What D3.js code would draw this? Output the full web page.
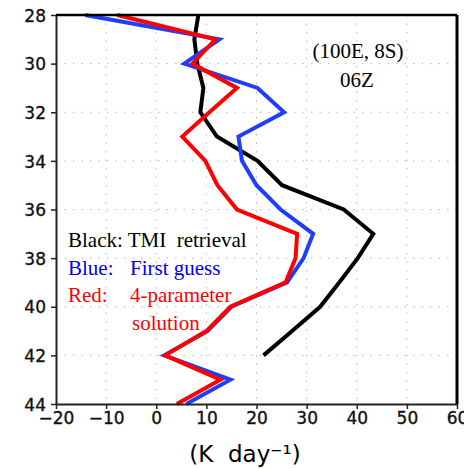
<!DOCTYPE html>
<html>
<head>
<meta charset="utf-8">
<script src="https://cdn.jsdelivr.net/npm/d3@7"></script>
<style>
  html, body { margin: 0; padding: 0; background: #fff; }
  svg { display: block; }
  .tick text { font-family: "DejaVu Sans", sans-serif; font-size: 17px; fill: #111; stroke: #111; stroke-width: 0.35px; }
  .grid line { stroke: #b8b8b8; stroke-width: 1; stroke-dasharray: 1.5,7; }
  .note { font-family: "Liberation Serif", "Times New Roman", serif; font-size: 21px; white-space: pre; }
</style>
</head>
<body>
<svg id="svg" width="464" height="469"></svg>
<script>
// --- Data ------------------------------------------------------------------
// vertical levels (y axis, increasing downward) and heating rates in K/day
const levels = [28, 29, 30, 31, 32, 33, 34, 35, 36, 37, 38, 39, 40, 41, 42, 43, 44];
const tmiRetrieval = [8.4, 7.6, 8.2, 9.4, 8.8, 12.1, 20.2, 25.1, 37.4, 43.3, 40.2, 36.5, 32.7, 27.1, 21.4, null, null];
const firstGuess = [-14.2, 12.6, 5.6, 20.2, 25.5, 16.4, 17.1, 20, 24.8, 31.3, 29.4, 26.1, 15, 10.2, 1.6, 14.8, 6];
const fourParam = [-7.8, 11.8, 7.2, 16.1, 10.6, 5.2, 9.8, 12.2, 16.1, 28.1, 27.8, 25.8, 14.8, 10, 1.8, 12.8, 4.1];
const xTicks = [-20, -10, 0, 10, 20, 30, 40, 50, 60];
const yTicks = [28, 30, 32, 34, 36, 38, 40, 42, 44];

const series = [
  { name: "TMI retrieval", color: "#000000", values: tmiRetrieval },
  { name: "First guess", color: "#1f3dff", values: firstGuess },
  { name: "4-parameter solution", color: "#ff0000", values: fourParam }
];

// --- Layout ----------------------------------------------------------------
const svg = d3.select("#svg");
const W = 464, H = 469;
const m = { left: 56, right: 7, top: 15, bottom: 65 };

const x = d3.scaleLinear().domain([-20, 60]).range([m.left, W - m.right]);
const y = d3.scaleLinear().domain([28, 44]).range([m.top, H - m.bottom]);

// grid
const grid = svg.append("g").attr("class", "grid");
grid.selectAll("line.v").data(xTicks.slice(1, -1)).enter().append("line")
  .attr("x1", d => x(d)).attr("x2", d => x(d))
  .attr("y1", y(28)).attr("y2", y(44));
grid.selectAll("line.h").data(yTicks.slice(1, -1)).enter().append("line")
  .attr("x1", x(-20)).attr("x2", x(60))
  .attr("y1", d => y(d)).attr("y2", d => y(d));

// lines
const line = d3.line()
  .defined(d => d.v != null)
  .x(d => x(d.v)).y(d => y(d.lev));

svg.append("g").selectAll("path")
  .data(series).enter()
  .append("path")
  .attr("d", s => line(levels.map((lev, i) => ({ lev, v: s.values[i] }))))
  .attr("fill", "none")
  .attr("stroke", s => s.color)
  .attr("stroke-width", 4)
  .attr("stroke-linejoin", "miter")
  .attr("stroke-linecap", "butt");

// frame: top/right heavy black, left/bottom axes
svg.append("line").attr("x1", x(-20)).attr("x2", x(60)).attr("y1", y(28)).attr("y2", y(28))
  .attr("stroke", "#000").attr("stroke-width", 2.5);
svg.append("line").attr("x1", x(60)).attr("x2", x(60)).attr("y1", y(28)).attr("y2", y(44))
  .attr("stroke", "#000").attr("stroke-width", 3);

const xAxis = svg.append("g")
  .attr("transform", `translate(0,${y(44)})`)
  .call(d3.axisBottom(x).tickValues(xTicks).tickSize(5).tickPadding(3).tickSizeOuter(0));
const yAxis = svg.append("g")
  .attr("transform", `translate(${x(-20)},0)`)
  .call(d3.axisLeft(y).tickValues(yTicks).tickSize(5).tickPadding(5).tickSizeOuter(0));
[xAxis, yAxis].forEach(a => {
  a.select(".domain").attr("stroke", "#222").attr("stroke-width", 2);
  a.selectAll(".tick line").attr("stroke", "#222").attr("stroke-width", 1.5);
});
yAxis.selectAll(".tick text").attr("dy", "0.36em");

// axis title
svg.append("text")
  .attr("x", 245).attr("y", 462)
  .attr("text-anchor", "middle")
  .attr("font-family", "DejaVu Sans, sans-serif")
  .attr("font-size", 23)
  .attr("fill", "#000")
  .style("white-space", "pre")
  .text("(K  day\u207B\u00B9)");

// annotations
svg.append("text").attr("class", "note").attr("x", 358).attr("y", 58)
  .attr("text-anchor", "middle").text("(100E, 8S)");
svg.append("text").attr("class", "note").attr("x", 357).attr("y", 87)
  .attr("text-anchor", "middle").text("06Z");

const legend = [
  { label: "Black:", text: "TMI  retrieval", color: "#000", y: 247 },
  { label: "Blue:", text: "First guess", color: "#0000ee", y: 275 },
  { label: "Red:", text: "4-parameter", color: "#ff0000", y: 302 }
];
legend.forEach(d => {
  if (d.label === "Black:") {
    svg.append("text").attr("class", "note").attr("x", 68).attr("y", d.y)
      .attr("fill", d.color).text(d.label + " " + d.text);
  } else {
    svg.append("text").attr("class", "note").attr("x", 68).attr("y", d.y).attr("fill", d.color).text(d.label);
    svg.append("text").attr("class", "note").attr("x", 130).attr("y", d.y).attr("fill", d.color).text(d.text);
  }
});
svg.append("text").attr("class", "note").attr("x", 132).attr("y", 330).attr("fill", "#ff0000").text("solution");
</script>
</body>
</html>
